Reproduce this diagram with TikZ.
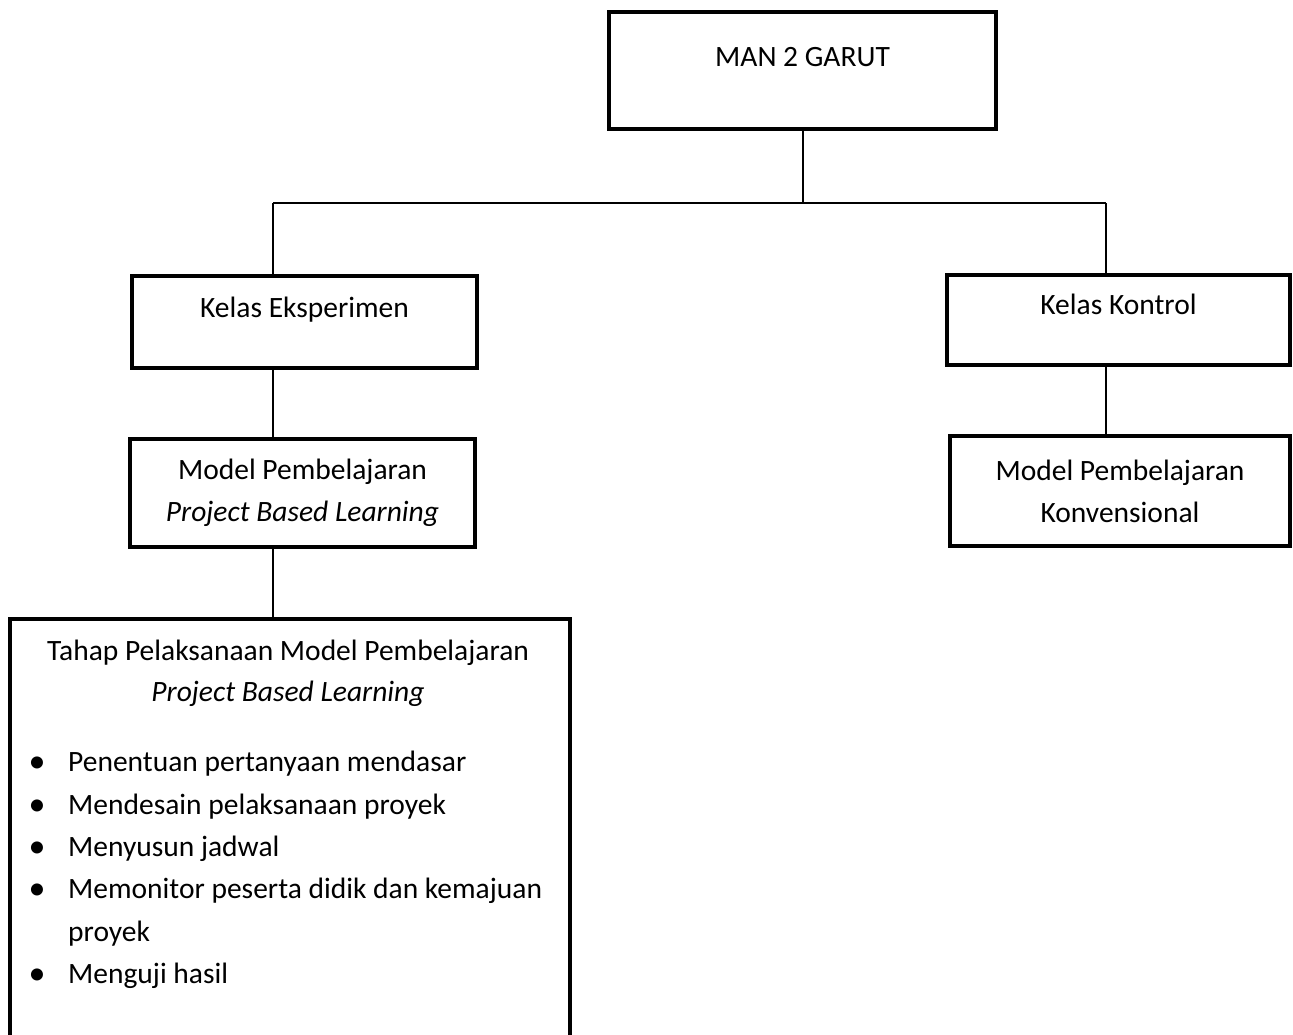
\documentclass[tikz,border=0pt]{standalone}
\usepackage{fontspec}
\setmainfont{Carlito}
\begin{document}
\begin{tikzpicture}[x=1pt,y=-1pt,
  box/.style={draw=black,line width=4.5pt,rectangle,inner sep=0pt,align=center,
     font=\fontsize{29.5}{42}\selectfont},
  txt/.style={inner sep=0pt,anchor=base,font=\fontsize{29.5}{42}\selectfont},
  itemtxt/.style={inner sep=0pt,anchor=base west,font=\fontsize{29.5}{42}\selectfont},
  bul/.style={inner sep=0pt,anchor=base,font=\fontsize{34}{42}\selectfont},
  conn/.style={draw=black,line width=1.5pt}]
\useasboundingbox (0,0) rectangle (1293,1034);
\clip (0,0) rectangle (1293,1034);
% boxes
\node[box,minimum width=387pt,minimum height=117pt] (man) at (802.5,70.5) {};
\node[txt] (mant) at (802.5,66) {MAN 2 GARUT};
\node[box,minimum width=345pt,minimum height=92pt] (ke) at (304.5,322) {};
\node[txt] (ket) at (304.5,317) {Kelas Eksperimen};
\node[box,minimum width=345pt,minimum height=108pt] (mpbl) at (302.5,493) {Model Pembelajaran\\\textit{Project Based Learning}};
\node[box,minimum width=343pt,minimum height=90pt] (kk) at (1118.5,320) {};
\node[txt] (kkt) at (1118.5,314) {Kelas Kontrol};
\node[box,minimum width=340pt,minimum height=110pt] (mpk) at (1120,491) {Model Pembelajaran\\Konvensional};
\node[box,minimum width=560pt,minimum height=500pt] (tahap) at (290,869) {};
\node[txt] (th1) at (288,660) {Tahap Pelaksanaan Model Pembelajaran};
\node[txt] (th2) at (288,701) {\textit{Project Based Learning}};
\node[bul] (b1) at (37,772) {•};
\node[itemtxt] (i1) at (68,771) {Penentuan pertanyaan mendasar};
\node[bul] (b2) at (37,815) {•};
\node[itemtxt] (i2) at (68,814) {Mendesain pelaksanaan proyek};
\node[bul] (b3) at (37,857) {•};
\node[itemtxt] (i3) at (68,856) {Menyusun jadwal};
\node[bul] (b4) at (37,899) {•};
\node[itemtxt] (i4) at (68,898) {Memonitor peserta didik dan kemajuan};
\node[itemtxt] (i4b) at (68,941) {proyek};
\node[bul] (b5) at (37,984) {•};
\node[itemtxt] (i5) at (68,983) {Menguji hasil};
% connectors
\coordinate (busL) at (273,203);
\coordinate (busM) at (803,203);
\coordinate (busR) at (1106,203);
\draw[conn] (man.south -| busM) -- (busM);
\draw[conn] (busL) -- (busR);
\draw[conn] (busL) -- (busL |- ke.north);
\draw[conn] (busR) -- (busR |- kk.north);
\draw[conn] (ke.south -| busL) -- (mpbl.north -| busL);
\draw[conn] (mpbl.south -| busL) -- (tahap.north -| busL);
\draw[conn] (kk.south -| busR) -- (mpk.north -| busR);
\end{tikzpicture}
\end{document}
